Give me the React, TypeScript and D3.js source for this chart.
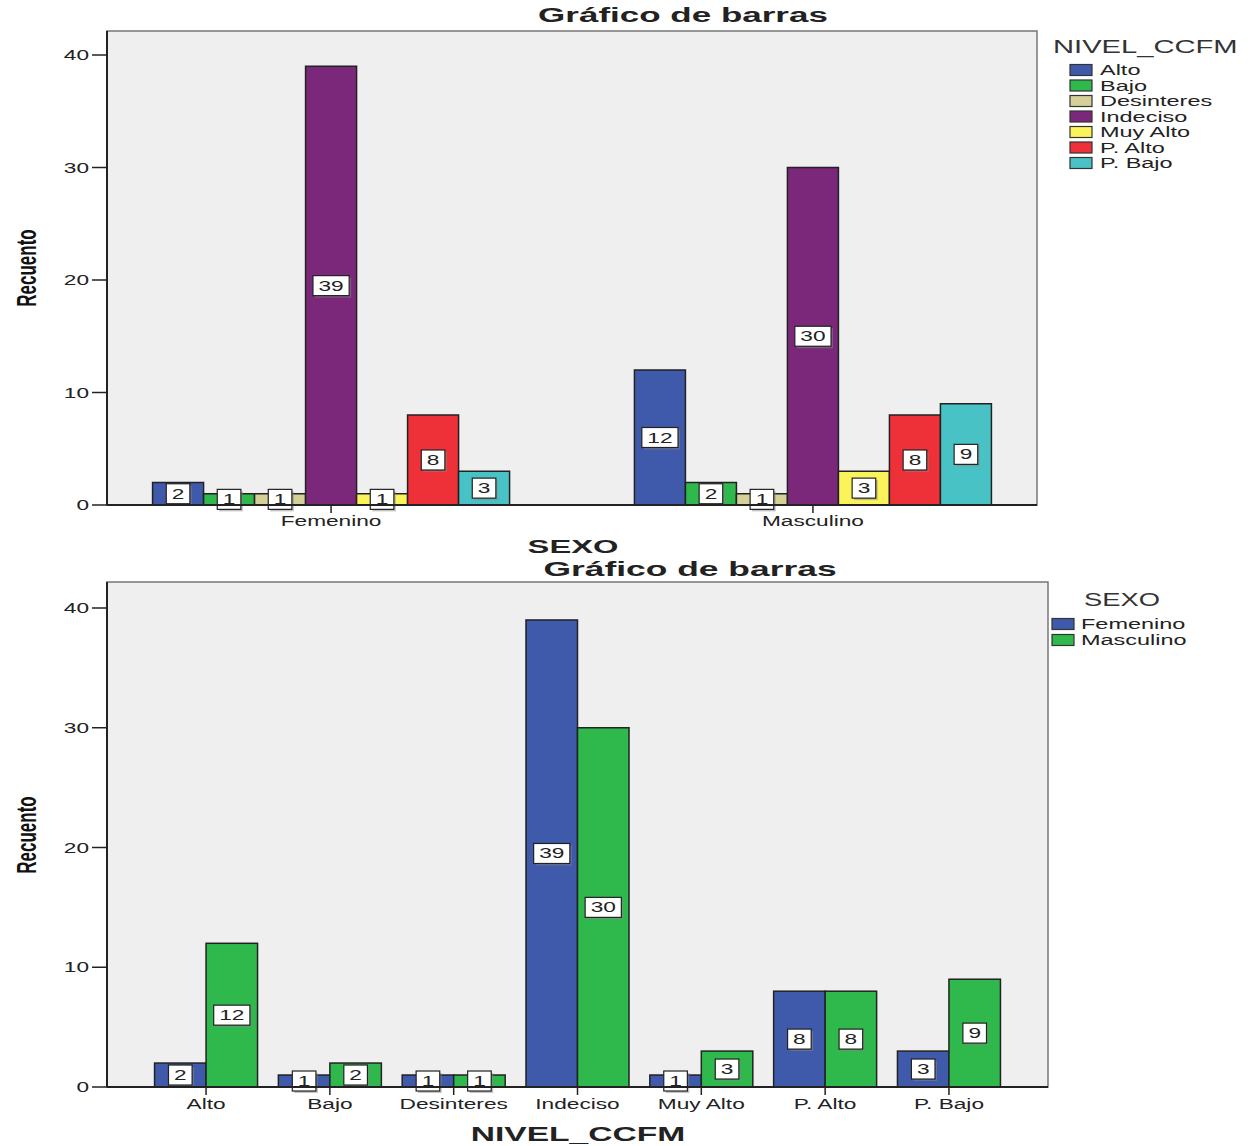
import React from "react";
import * as d3 from "d3";

const sexos = ["Femenino", "Masculino"];
const niveles = ["Alto", "Bajo", "Desinteres", "Indeciso", "Muy Alto", "P. Alto", "P. Bajo"];
const femenino = [2, 1, 1, 39, 1, 8, 3];
const masculino = [12, 2, 1, 30, 3, 8, 9];
const nivelColors = ["#3f59ab", "#2fb84b", "#d5cf98", "#7b287a", "#fbf35a", "#ee3139", "#49c2c5"];
const sexoColors = ["#3f59ab", "#2fb84b"];
const yTicks = [0, 10, 20, 30, 40];

const FONT = "'Liberation Sans', Arial, sans-serif";
const SX = 1.62;

function T({ x, y, anchor = "start", size = 14, weight = "normal", sx = SX, fill = "#222", children }: any) {
  return (
    <g transform={`translate(${x},${y}) scale(${sx},1)`}>
      <text x={0} y={0} textAnchor={anchor} fontSize={size} fontWeight={weight} fontFamily={FONT} fill={fill}>
        {children}
      </text>
    </g>
  );
}

function Label({ cx, cy, value }: any) {
  const s = String(value);
  const w = s.length * 12.6 + 11;
  const h = 20;
  return (
    <g>
      <rect x={cx - w / 2 + 2} y={cy - h / 2 + 2} width={w} height={h} fill="#888" opacity={0.5} />
      <rect x={cx - w / 2} y={cy - h / 2} width={w} height={h} fill="#fff" stroke="#222" strokeWidth={1.2} />
      <T x={cx} y={cy + 5} anchor="middle" size={14}>{s}</T>
    </g>
  );
}

function YAxis({ y, x0 }: any) {
  return (
    <g>
      {yTicks.map((t) => (
        <g key={t}>
          <line x1={x0 - 15} x2={x0} y1={y(t)} y2={y(t)} stroke="#222" strokeWidth={1.5} />
          <T x={x0 - 18} y={y(t) + 5} anchor="end" size={14}>{t}</T>
        </g>
      ))}
    </g>
  );
}

function TopChart() {
  const left = 107, right = 1037, top = 31, bottom = 505;
  const y = d3.scaleLinear().domain([0, 40]).range([bottom, 55]);
  const x = d3.scalePoint<string>().domain(sexos).range([left, right]).padding(0.465);
  const inner = d3.scaleBand<string>().domain(niveles).range([-178.5, 178.5]).padding(0);
  const series = [femenino, masculino];
  return (
    <g>
      <T x={683} y={22} anchor="middle" size={20} weight="bold" sx={1.75}>Gráfico de barras</T>
      <rect x={left} y={top} width={right - left} height={bottom - top} fill="#efefef" stroke="#777" strokeWidth={1.5} />
      {sexos.map((s, si) => (
        <g key={s}>
          {niveles.map((n, ni) => {
            const v = series[si][ni];
            const bx = (x(s) as number) + (inner(n) as number);
            return (
              <rect key={n} x={bx} y={y(v)} width={inner.bandwidth()} height={bottom - y(v)}
                fill={nivelColors[ni]} stroke="#222" strokeWidth={1.5} />
            );
          })}
          {niveles.map((n, ni) => {
            const v = series[si][ni];
            const bx = (x(s) as number) + (inner(n) as number) + inner.bandwidth() / 2;
            return <Label key={n} cx={bx} cy={(y(v) + y(0)) / 2} value={v} />;
          })}
          <line x1={x(s)} x2={x(s)} y1={bottom} y2={bottom + 8} stroke="#222" strokeWidth={1.5} />
          <T x={x(s)} y={526} anchor="middle" size={14}>{s}</T>
        </g>
      ))}
      <line x1={left} x2={left} y1={top} y2={bottom} stroke="#222" strokeWidth={2} />
      <line x1={left} x2={right} y1={bottom} y2={bottom} stroke="#222" strokeWidth={2} />
      <YAxis y={y} x0={left} />
      <g transform={`translate(36,268) scale(${SX},1) rotate(-90)`}>
        <text textAnchor="middle" fontSize={17} fontWeight="bold" fontFamily={FONT} fill="#111">Recuento</text>
      </g>
      <T x={573} y={553} anchor="middle" size={19} weight="bold" sx={1.72}>SEXO</T>
      <T x={1053} y={53} size={18} fill="#333">NIVEL_CCFM</T>
      {niveles.map((n, i) => {
        const cy = 70 + i * 15.5;
        return (
          <g key={n}>
            <rect x={1070} y={cy - 5.5} width={22} height={11} fill={nivelColors[i]} stroke="#333" strokeWidth={1.2} />
            <T x={1100} y={cy + 5} size={14.5}>{n}</T>
          </g>
        );
      })}
    </g>
  );
}

function BottomChart() {
  const left = 107, right = 1048, top = 582, bottom = 1087;
  const y = d3.scaleLinear().domain([0, 40]).range([bottom, 608]);
  const x = d3.scalePoint<string>().domain(niveles).range([left, right]).padding(0.8);
  const inner = d3.scaleBand<string>().domain(sexos).range([-51.5, 51.5]).padding(0);
  const series = [femenino, masculino];
  return (
    <g>
      <T x={690} y={576} anchor="middle" size={20} weight="bold" sx={1.77}>Gráfico de barras</T>
      <rect x={left} y={top} width={right - left} height={bottom - top} fill="#efefef" stroke="#777" strokeWidth={1.5} />
      {niveles.map((n, ni) => (
        <g key={n}>
          {sexos.map((s, si) => {
            const v = series[si][ni];
            const bx = (x(n) as number) + (inner(s) as number);
            return (
              <rect key={s} x={bx} y={y(v)} width={inner.bandwidth()} height={bottom - y(v)}
                fill={sexoColors[si]} stroke="#222" strokeWidth={1.5} />
            );
          })}
          {sexos.map((s, si) => {
            const v = series[si][ni];
            const bx = (x(n) as number) + (inner(s) as number) + inner.bandwidth() / 2;
            return <Label key={s} cx={bx} cy={(y(v) + y(0)) / 2} value={v} />;
          })}
          <line x1={x(n)} x2={x(n)} y1={bottom} y2={bottom + 8} stroke="#222" strokeWidth={1.5} />
          <T x={x(n)} y={1109} anchor="middle" size={14}>{n}</T>
        </g>
      ))}
      <line x1={left} x2={left} y1={top} y2={bottom} stroke="#222" strokeWidth={2} />
      <line x1={left} x2={right} y1={bottom} y2={bottom} stroke="#222" strokeWidth={2} />
      <YAxis y={y} x0={left} />
      <g transform={`translate(36,835) scale(${SX},1) rotate(-90)`}>
        <text textAnchor="middle" fontSize={17} fontWeight="bold" fontFamily={FONT} fill="#111">Recuento</text>
      </g>
      <T x={578} y={1141} anchor="middle" size={20} weight="bold" sx={1.68}>NIVEL_CCFM</T>
      <T x={1084} y={606} size={18} fill="#333" sx={1.52}>SEXO</T>
      {sexos.map((s, i) => {
        const cy = 624 + i * 16;
        return (
          <g key={s}>
            <rect x={1052} y={cy - 5.5} width={22} height={11} fill={sexoColors[i]} stroke="#333" strokeWidth={1.2} />
            <T x={1081} y={cy + 5} size={14.5}>{s}</T>
          </g>
        );
      })}
    </g>
  );
}

export default function App() {
  return (
    <svg width={1249} height={1146} style={{ position: "absolute", left: 0, top: 0, background: "#fff" }}>
      <rect x={0} y={0} width={1249} height={1146} fill="#fff" />
      <TopChart />
      <BottomChart />
    </svg>
  );
}
